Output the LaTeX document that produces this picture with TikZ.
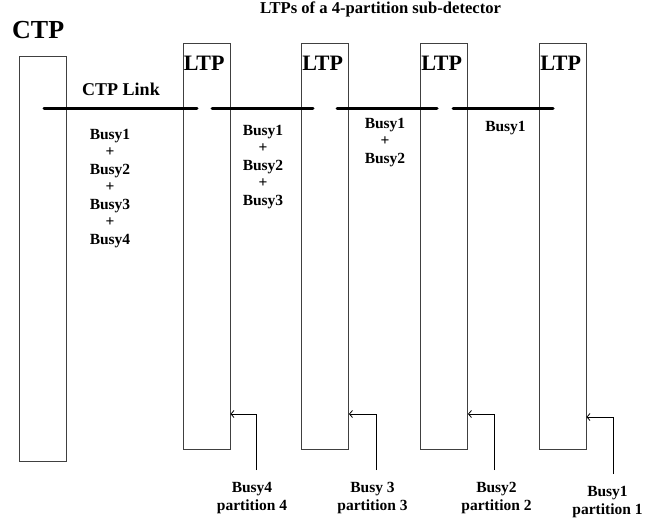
\documentclass[tikz,border=0pt]{standalone}
\usepackage{fontspec}
\setmainfont{Liberation Serif}
\usetikzlibrary{arrows.meta,positioning}

\begin{document}
\begin{tikzpicture}[x=1pt, y=-1pt,
  box/.style={draw=black!75, line width=0.9pt, minimum width=47pt, minimum height=406pt, inner sep=0pt},
  boxname/.style={anchor=north west, inner sep=0pt, font=\bfseries\fontsize{22}{22}\selectfont},
  link/.style={line width=3pt, line cap=round},
  busy/.style={anchor=north, inner sep=0pt, align=center, font=\bfseries\fontsize{15.5}{17.5}\selectfont},
  partlabel/.style={anchor=north, inner xsep=0pt, inner ysep=12pt, align=center, font=\bfseries\fontsize{15.5}{18}\selectfont},
  arrow/.style={-{Straight Barb[length=3pt, width=7pt]}, line width=0.8pt}
]
\useasboundingbox (0,0) rectangle (658,522);
% title
\node[anchor=base, inner sep=0pt, font=\bfseries\fontsize{16.6}{16.6}\selectfont] (title) at (380.5,13.5) {LTPs of a 4-partition sub-detector};
% CTP
\node[box, minimum height=405pt] (ctp) at (42.5,258.5) {};
\node[anchor=base west, inner sep=0pt, font=\bfseries\fontsize{26}{26}\selectfont] (ctpname) at (12,38) {CTP};
% LTPs
\node[box] (ltp4) at (206.5,246.5) {};
\node[box] (ltp3) at (325,246) {};
\node[box] (ltp2) at (444,246) {};
\node[box] (ltp1) at (562.5,246.5) {};
\node[boxname, below right=13pt and 1pt of ltp4.north west] (name4) {LTP};
\node[boxname, below right=13pt and 1pt of ltp3.north west] (name3) {LTP};
\node[boxname, below right=13pt and 1pt of ltp2.north west] (name2) {LTP};
\node[boxname, below right=13pt and 1.5pt of ltp1.north west] (name1) {LTP};
% links
\draw[link] (44,108) -- (197,108);
\draw[link] (212,108) -- (313,108);
\draw[link] (337,108) -- (437,108);
\draw[link] (453,108) -- (553,108);
\node[anchor=base, inner sep=0pt, font=\bfseries\fontsize{18}{18}\selectfont] (linkname) at (121,95) {CTP Link};
% busy sums
\node[busy] (sum4) at (110,129) {Busy1\\+\\Busy2\\+\\Busy3\\+\\Busy4};
\node[busy] (sum3) at (263,125) {Busy1\\+\\Busy2\\+\\Busy3};
\node[busy] (sum2) at (385,118) {Busy1\\+\\Busy2};
\node[busy] (sum1) at (505.5,121) {Busy1};
% partition busy inputs
\node[partlabel] (part4) at (252,470) {Busy4\\partition 4};
\node[partlabel] (part3) at (372.5,470) {Busy 3\\partition 3};
\node[partlabel] (part2) at (496.5,470) {Busy2\\partition 2};
\node[partlabel] (part1) at (607.5,474) {Busy1\\partition 1};
\draw[arrow] (part4.north) ++(4,0) |- (ltp4.east |- 0,414);
\draw[arrow] (part3.north) ++(4,0) |- (ltp3.east |- 0,414);
\draw[arrow] (part2.north) ++(-2,0) |- (ltp2.east |- 0,414);
\draw[arrow] (part1.north) ++(6,0) |- (ltp1.east |- 0,417);
\end{tikzpicture}
\end{document}
